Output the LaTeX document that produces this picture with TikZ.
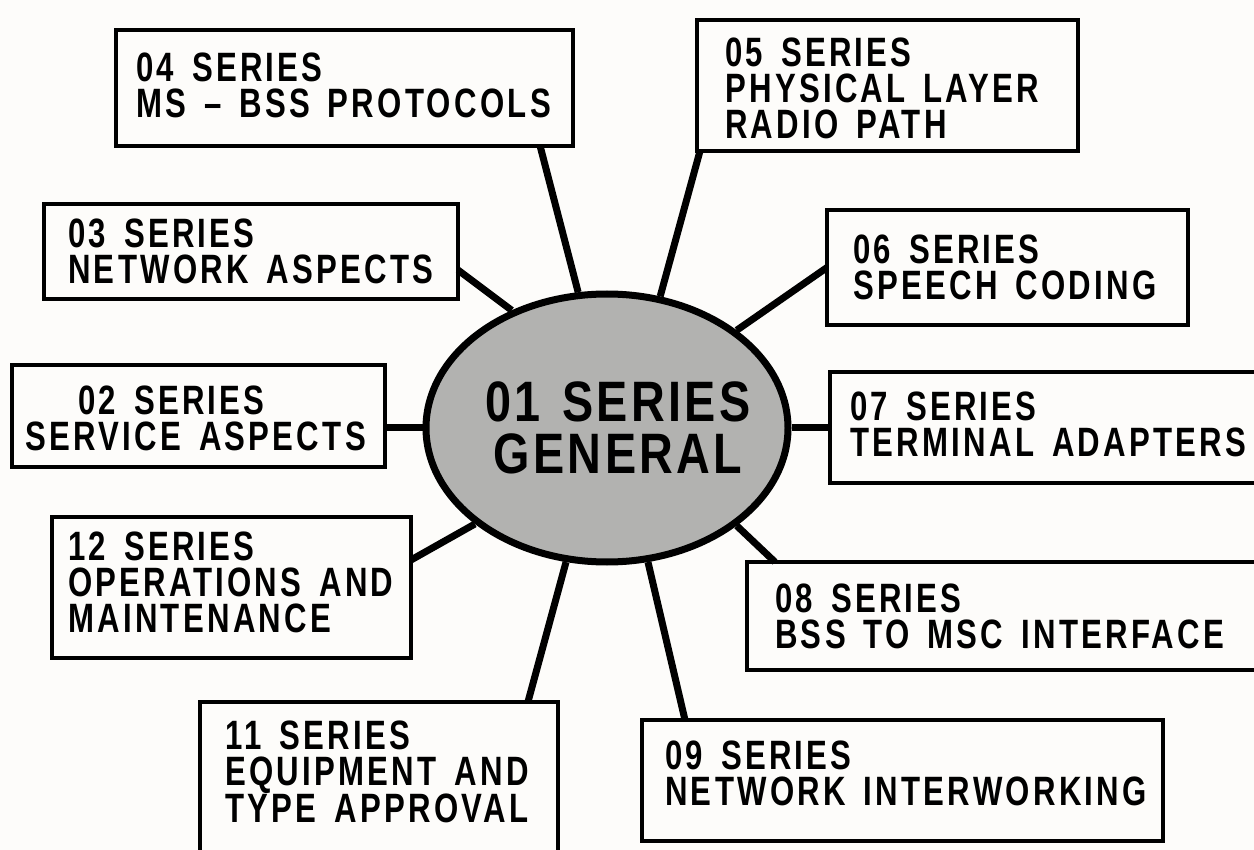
\documentclass[tikz,border=0pt]{standalone}
\usepackage{fontspec}
\setmainfont{Liberation Sans}[FakeStretch=0.76, LetterSpace=8, WordSpace=1.5]
\newfontfamily\hubfont{Liberation Sans}[FakeStretch=0.82, LetterSpace=6, WordSpace=1.3]
\usetikzlibrary{shapes.geometric,calc}
\definecolor{paper}{RGB}{253,252,250}
\definecolor{hubgray}{RGB}{178,178,176}
\begin{document}
\begin{tikzpicture}[x=1pt, y=-1pt,
  serbox/.style={draw, line width=4.5pt, fill=paper, anchor=north west, inner sep=0pt, outer sep=0pt},
  boxtext/.style={anchor=west, align=left, inner sep=0pt, font=\fontsize{41}{36}\selectfont\bfseries},
  spoke/.style={line width=7pt}]
  \path[use as bounding box, fill=paper] (0,0) rectangle (1254,850);
  \clip (0,0) rectangle (1254,850);
  % centre
  \node[ellipse, draw, line width=7pt, fill=hubgray, minimum width=362pt, minimum height=268pt,
        inner sep=0pt] (hub) at (607,428) {};
  \node[align=center, inner sep=0pt, font=\hubfont\fontsize{57}{52}\selectfont\bfseries] (hubt)
        at ([xshift=11]hub.center) {01 SERIES\\GENERAL};
  % boxes
  \foreach \n/\x/\y/\w/\h in {04/116/30/457/116, 05/697/20/381/131, 03/44/204/414/95,
      06/827/210/361/115, 02/12/365/373/102, 07/830/372/440/111, 12/52/517/359/141,
      08/747/562/520/108, 11/200/702/358/160, 09/642/720/521/121}
    \node[serbox, minimum width=\w pt, minimum height=\h pt] (b\n) at (\x,\y) {};
  \foreach \n/\p/\d/\t in {04/20/-3/{04 SERIES\\MS -- BSS PROTOCOLS},
      05/28/3/{05 SERIES\\PHYSICAL LAYER\\RADIO PATH},
      03/24/0/{03 SERIES\\NETWORK ASPECTS},
      06/26/0/{06 SERIES\\SPEECH CODING},
      02/13/2/{\hspace*{53pt}02 SERIES\\SERVICE ASPECTS},
      07/20/-3/{07 SERIES\\TERMINAL ADAPTERS},
      12/16/-5/{12 SERIES\\OPERATIONS AND\\MAINTENANCE},
      08/28/0/{08 SERIES\\BSS TO MSC INTERFACE},
      11/25/-10/{11 SERIES\\EQUIPMENT AND\\TYPE APPROVAL},
      09/23/-7/{09 SERIES\\NETWORK INTERWORKING}}
    \node[boxtext] (t\n) at ([shift={(\p,\d)}]b\n.west) {\t};
  % spokes
  \draw[spoke] ($(b04.south west)!0.928!(b04.south east)$) -- (hub.102);
  \draw[spoke] ($(b05.south west)+(3,0)$) -- (hub.68);
  \draw[spoke] ($(b03.north east)!0.695!(b03.south east)$) -- (hub.129);
  \draw[spoke] (b06.west) -- (hub.37);
  \draw[spoke] (b02.east |- hub.west) -- (hub.west);
  \draw[spoke] (hub.east) -- (hub.east -| b07.west);
  \draw[spoke] ($(b12.north east)!0.305!(b12.south east)$) -- (hub.216);
  \draw[spoke] ($(b08.north west)+(28,0)$) -- (hub.323);
  \draw[spoke] ($(b11.north west)!0.916!(b11.north east)$) -- (hub.253);
  \draw[spoke] ($(b09.north west)+(43,0)$) -- (hub.287);
\end{tikzpicture}
\end{document}
